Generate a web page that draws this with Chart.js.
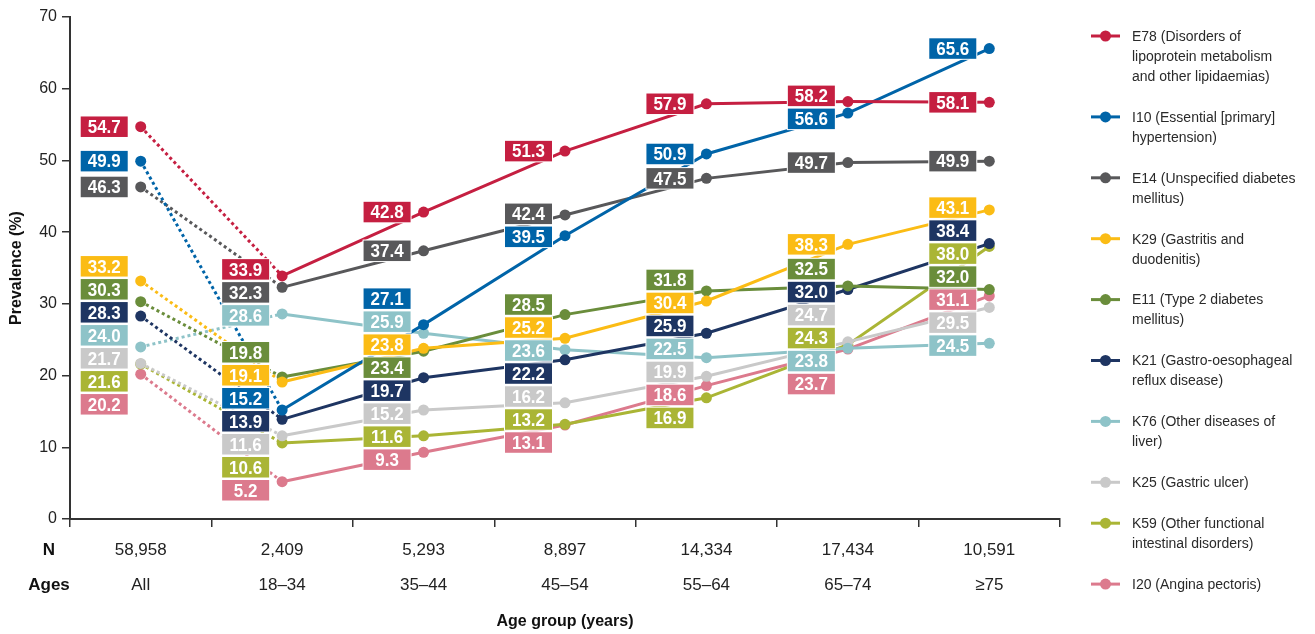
<!DOCTYPE html>
<html>
<head>
<meta charset="utf-8">
<script src="https://cdn.jsdelivr.net/npm/chart.js@4/dist/chart.umd.min.js"></script>
<style>
  html, body { margin: 0; padding: 0; background: #fff; }
  #wrap { width: 1315px; height: 634px; position: relative; }
</style>
</head>
<body>
<div id="wrap"><canvas id="chart" width="1315" height="634"></canvas></div>
<script>
// categories along the x axis
var ageGroups = ['All', '18\u201334', '35\u201344', '45\u201354', '55\u201364', '65\u201374', '\u226575'];
var nCounts = ['58,958', '2,409', '5,293', '8,897', '14,334', '17,434', '10,591'];

// prevalence (%) per diagnosis
var e78 = [54.7, 33.9, 42.8, 51.3, 57.9, 58.2, 58.1];
var i10 = [49.9, 15.2, 27.1, 39.5, 50.9, 56.6, 65.6];
var e14 = [46.3, 32.3, 37.4, 42.4, 47.5, 49.7, 49.9];
var k29 = [33.2, 19.1, 23.8, 25.2, 30.4, 38.3, 43.1];
var e11 = [30.3, 19.8, 23.4, 28.5, 31.8, 32.5, 32.0];
var k21 = [28.3, 13.9, 19.7, 22.2, 25.9, 32.0, 38.4];
var k76 = [24.0, 28.6, 25.9, 23.6, 22.5, 23.8, 24.5];
var k25 = [21.7, 11.6, 15.2, 16.2, 19.9, 24.7, 29.5];
var k59 = [21.6, 10.6, 11.6, 13.2, 16.9, 24.3, 38.0];
var i20 = [20.2, 5.2, 9.3, 13.1, 18.6, 23.7, 31.1];

// legend text, already broken into lines
var seriesNames = [
  ['E78 (Disorders of', 'lipoprotein metabolism', 'and other lipidaemias)'],
  ['I10 (Essential [primary]', 'hypertension)'],
  ['E14 (Unspecified diabetes', 'mellitus)'],
  ['K29 (Gastritis and', 'duodenitis)'],
  ['E11 (Type 2 diabetes', 'mellitus)'],
  ['K21 (Gastro-oesophageal', 'reflux disease)'],
  ['K76 (Other diseases of', 'liver)'],
  ['K25 (Gastric ulcer)'],
  ['K59 (Other functional', 'intestinal disorders)'],
  ['I20 (Angina pectoris)']
];
var seriesValues = [e78, i10, e14, k29, e11, k21, k76, k25, k59, i20];
var seriesColors = ['#C51F41', '#0064A8', '#58585A', '#FBBC15', '#6A8D3B',
                    '#1E3562', '#8EC3C8', '#C9C9C9', '#AAB535', '#DC7A8D'];

var FONT = '"Liberation Sans", Arial, Helvetica, sans-serif';
Chart.defaults.font.family = FONT;

var datasets = seriesValues.map(function (vals, i) {
  return {
    label: seriesNames[i].join(' '),
    data: vals,
    borderColor: seriesColors[i],
    backgroundColor: seriesColors[i],
    pointBackgroundColor: seriesColors[i],
    pointBorderWidth: 0,
    pointRadius: 5.5,
    borderWidth: 3,
    tension: 0,
    segment: {
      borderDash: function (ctx) { return ctx.p0DataIndex === 0 ? [3, 3] : undefined; }
    }
  };
});

// value boxes to the left of each point, spread so they do not overlap
var valueBoxes = {
  id: 'valueBoxes',
  afterDatasetsDraw: function (chart) {
    var ctx = chart.ctx;
    var gap = 23, bw = 47, bh = 20.5;
    for (var c = 0; c < ageGroups.length; c++) {
      var items = [];
      chart.data.datasets.forEach(function (ds, d) {
        var pt = chart.getDatasetMeta(d).data[c];
        items.push({ d: d, x: pt.x, y: pt.y, v: ds.data[c] });
      });
      items.sort(function (a, b) { return a.y - b.y || a.d - b.d; });
      var clusters = items.map(function (it) { return { items: [it], top: it.y }; });
      var merged = true;
      while (merged) {
        merged = false;
        for (var i = 0; i < clusters.length - 1; i++) {
          var a = clusters[i], b = clusters[i + 1];
          if (a.top + a.items.length * gap > b.top) {
            var all = a.items.concat(b.items);
            var mean = all.reduce(function (s, it) { return s + it.y; }, 0) / all.length;
            clusters.splice(i, 2, { items: all, top: mean - (all.length - 1) / 2 * gap });
            merged = true;
            break;
          }
        }
      }
      ctx.save();
      ctx.font = 'bold 17px ' + FONT;
      ctx.textAlign = 'center';
      ctx.textBaseline = 'middle';
      clusters.forEach(function (cl) {
        cl.items.forEach(function (it, k) {
          var cy = cl.top + k * gap;
          var right = it.x - 13;
          ctx.fillStyle = '#fff';
          ctx.fillRect(right - bw - 1, cy - bh / 2 - 1, bw + 2, bh + 2);
          ctx.fillStyle = seriesColors[it.d];
          ctx.fillRect(right - bw, cy - bh / 2, bw, bh);
          ctx.fillStyle = '#fff';
          // the source figure is slightly stretched vertically
          ctx.save();
          ctx.translate(right - bw / 2, cy + 1);
          ctx.scale(1, 1.12);
          ctx.fillText(it.v.toFixed(1), 0, 0);
          ctx.restore();
        });
      });
      ctx.restore();
    }
  }
};

// row captions beside the x tick labels, and the legend on the right
var extras = {
  id: 'extras',
  afterDraw: function (chart) {
    var ctx = chart.ctx;
    var xs = chart.scales.x;
    ctx.save();
    ctx.fillStyle = '#111';
    ctx.font = 'bold 17px ' + FONT;
    ctx.textAlign = 'center';
    ctx.textBaseline = 'middle';
    var y0 = xs.top + 8 + 6 + 35 / 2;
    ctx.fillText('N', 49, y0);
    ctx.fillText('Ages', 49, y0 + 35);

    var y = 36, lx = 1091;
    ctx.font = '14px ' + FONT;
    ctx.textAlign = 'left';
    seriesNames.forEach(function (lines, i) {
      ctx.strokeStyle = seriesColors[i];
      ctx.lineWidth = 3;
      ctx.beginPath();
      ctx.moveTo(lx, y);
      ctx.lineTo(lx + 29, y);
      ctx.stroke();
      ctx.fillStyle = seriesColors[i];
      ctx.beginPath();
      ctx.arc(lx + 14.5, y, 5.5, 0, Math.PI * 2);
      ctx.fill();
      ctx.fillStyle = '#2a2a2a';
      lines.forEach(function (t, k) { ctx.fillText(t, 1132, y + k * 20 + 1); });
      y += lines.length * 20 + 20.9;
    });
    ctx.restore();
  }
};

new Chart(document.getElementById('chart'), {
  type: 'line',
  data: { labels: ageGroups, datasets: datasets },
  plugins: [valueBoxes, extras],
  options: {
    responsive: false,
    animation: false,
    devicePixelRatio: 1,
    layout: { padding: { top: 17, right: 255, left: 0, bottom: 0 } },
    plugins: { legend: { display: false }, tooltip: { enabled: false } },
    scales: {
      x: {
        offset: true,
        afterFit: function (s) { s.height = 115; },
        grid: { offset: true, drawOnChartArea: false, drawTicks: true, tickLength: 8, color: '#333', lineWidth: 1.5 },
        border: { color: '#333', width: 2 },
        ticks: {
          color: '#222',
          font: { size: 17, lineHeight: '35px' },
          padding: 6,
          maxRotation: 0,
          autoSkip: false,
          callback: function (v, i) { return [nCounts[i], ageGroups[i]]; }
        },
        title: {
          display: true, text: 'Age group (years)', color: '#111',
          font: { size: 16, weight: 'bold' }, padding: { top: 0, bottom: 3 }
        }
      },
      y: {
        min: 0, max: 70,
        afterFit: function (s) { s.width = 70; },
        grid: { drawOnChartArea: false, drawTicks: true, tickLength: 8, color: '#333', lineWidth: 1.5 },
        border: { color: '#333', width: 2 },
        ticks: { stepSize: 10, color: '#222', font: { size: 16 }, padding: 5 },
        title: {
          display: true, text: 'Prevalence (%)', color: '#111',
          font: { size: 16, weight: 'bold' }, padding: { top: 7, bottom: 0 }
        }
      }
    }
  }
});
</script>
</body>
</html>
